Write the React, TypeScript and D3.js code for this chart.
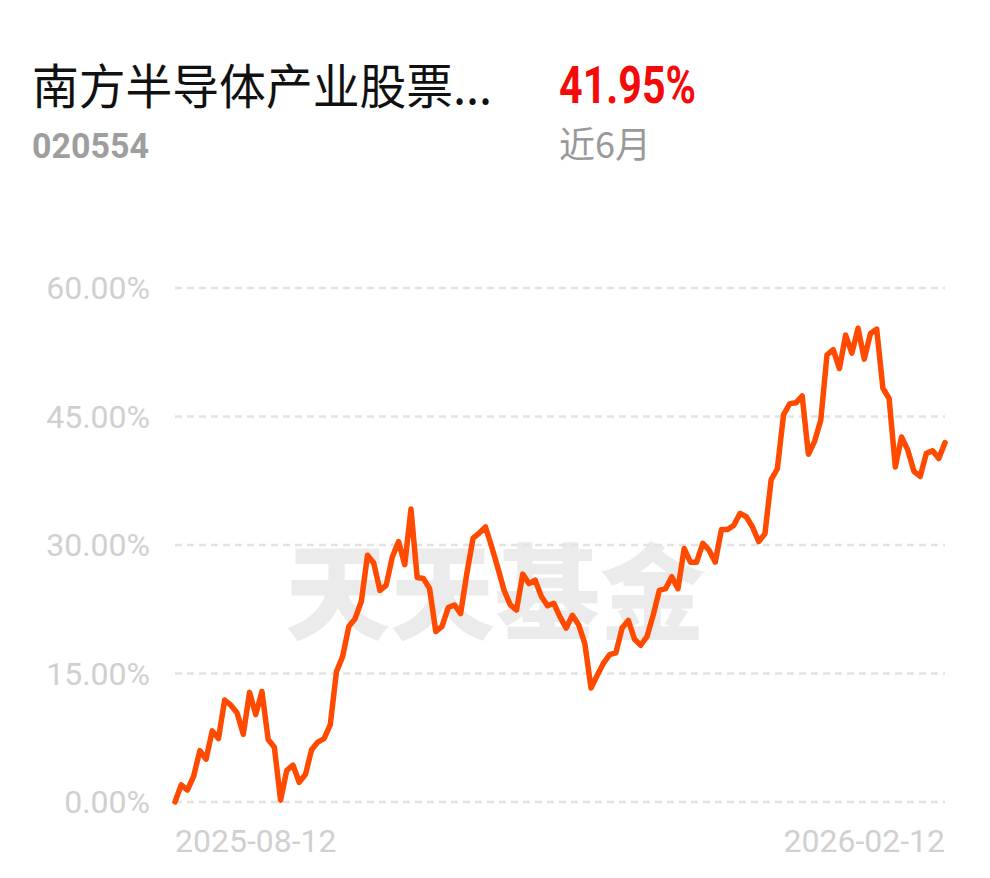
import React, { useEffect, useRef } from "react";
import * as d3 from "d3";

// fund info
const fundName = "南方半导体产业股票...";
const fundCode = "020554";
const periodReturn = "41.95%";
const periodLabel = "近6月";
const watermark = "天天基金";

// x axis labels (first / last trading day)
const dateLabels = ["2025-08-12", "2026-02-12"];

// y ticks in %
const yTicks = [0, 15, 30, 45, 60];

// cumulative return (%) per trading day
const returns = [
  0, 2.0, 1.4, 3.0, 6.0, 5.0, 8.3, 7.4, 11.9, 11.3,
  10.4, 7.9, 12.8, 10.2, 12.9, 7.3, 6.4, 0.2, 3.7, 4.3,
  2.3, 3.2, 6.1, 7.0, 7.4, 9.0, 15.2, 17.0, 20.5, 21.4,
  23.4, 28.8, 27.9, 24.7, 25.3, 28.6, 30.4, 27.7, 34.2, 26.2,
  26.1, 24.9, 19.9, 20.5, 22.7, 23.0, 22.0, 26.7, 30.8, 31.4,
  32.1, 29.8, 27.3, 24.7, 23.0, 22.4, 26.6, 25.5, 25.9, 24.0,
  22.9, 23.2, 21.6, 20.3, 21.8, 20.7, 18.5, 13.3, 14.8, 16.2,
  17.2, 17.4, 20.3, 21.2, 19.0, 18.3, 19.3, 21.8, 24.7, 24.9,
  26.3, 24.9, 29.6, 28.0, 28.0, 30.2, 29.4, 28.0, 31.8, 31.8,
  32.3, 33.7, 33.3, 32.1, 30.4, 31.3, 37.6, 38.9, 45.2, 46.5,
  46.6, 47.4, 40.6, 42.1, 44.6, 52.2, 52.8, 50.6, 54.5, 52.4,
  55.3, 51.7, 54.7, 55.2, 48.3, 47.1, 39.1, 42.6, 41.1, 38.6,
  38.0, 40.7, 41.0, 40.1, 41.95,
];

export default function App() {
  const svgRef = useRef<SVGSVGElement | null>(null);

  useEffect(() => {
    document.body.style.margin = "0";
    const width = 990;
    const height = 878;
    const left = 175;
    const right = 945;
    const top = 288;
    const bottom = 802;

    const svg = d3.select(svgRef.current);
    svg.selectAll("*").remove();
    svg.attr("width", width).attr("height", height);

    svg.append("rect").attr("width", width).attr("height", height).attr("fill", "#fff");

    // header
    svg.append("text")
      .attr("x", 32).attr("y", 104)
      .attr("textLength", 460)
      .attr("lengthAdjust", "spacingAndGlyphs")
      .style("font-family", "'Noto Sans CJK SC', sans-serif")
      .style("font-size", "48px")
      .style("fill", "#111")
      .text(fundName);

    svg.append("text")
      .attr("x", 559).attr("y", 103)
      .attr("textLength", 137)
      .attr("lengthAdjust", "spacingAndGlyphs")
      .style("font-family", "Roboto, sans-serif")
      .style("font-weight", "bold")
      .style("font-size", "51px")
      .style("fill", "#f50a0a")
      .text(periodReturn);

    svg.append("text")
      .attr("x", 32).attr("y", 158)
      .attr("textLength", 117)
      .attr("lengthAdjust", "spacingAndGlyphs")
      .style("font-family", "Roboto, sans-serif")
      .style("font-weight", "bold")
      .style("font-size", "35px")
      .style("fill", "#9e9e9e")
      .text(fundCode);

    svg.append("text")
      .attr("x", 559).attr("y", 158)
      .style("font-family", "'Noto Sans CJK SC', sans-serif")
      .style("font-size", "36px")
      .style("fill", "#999")
      .text(periodLabel);

    const x = d3.scaleLinear().domain([0, returns.length - 1]).range([left, right]);
    const y = d3.scaleLinear().domain([0, 60]).range([bottom, top]);

    // watermark
    svg.append("text")
      .attr("x", (left + right) / 2 - 65).attr("y", 632)
      .attr("text-anchor", "middle")
      .attr("textLength", 420)
      .attr("lengthAdjust", "spacingAndGlyphs")
      .style("font-family", "'Noto Sans CJK SC', sans-serif")
      .style("font-weight", 900)
      .style("font-size", "104px")
      .style("fill", "#ebebeb")
      .text(watermark);

    // grid
    const grid = svg.append("g");
    grid.selectAll("line")
      .data(yTicks)
      .join("line")
      .attr("x1", left).attr("x2", right)
      .attr("y1", d => y(d)).attr("y2", d => y(d))
      .attr("stroke", "#e3e3e3")
      .attr("stroke-width", 2.5)
      .attr("stroke-dasharray", "7 5");

    grid.selectAll("text")
      .data(yTicks)
      .join("text")
      .attr("x", 150)
      .attr("y", d => y(d) + 11)
      .attr("text-anchor", "end")
      .style("font-family", "Roboto, sans-serif")
      .style("font-size", "32px")
      .style("fill", "#d0d0d0")
      .text(d => d3.format(".2f")(d) + "%");

    // x labels
    svg.selectAll(".xlab")
      .data(dateLabels)
      .join("text")
      .attr("class", "xlab")
      .attr("x", (d, i) => (i === 0 ? x(0) : x(returns.length - 1)))
      .attr("y", 852)
      .attr("text-anchor", (d, i) => (i === 0 ? "start" : "end"))
      .style("font-family", "Roboto, sans-serif")
      .style("font-size", "32px")
      .style("fill", "#d0d0d0")
      .text(d => d);

    // line
    const line = d3.line<number>()
      .x((d, i) => x(i))
      .y(d => y(d));

    svg.append("path")
      .datum(returns)
      .attr("d", line)
      .attr("fill", "none")
      .attr("stroke", "#ff4a00")
      .attr("stroke-width", 5.5)
      .attr("stroke-linejoin", "round")
      .attr("stroke-linecap", "round");
  }, []);

  return <svg ref={svgRef} style={{ display: "block" }}></svg>;
}
